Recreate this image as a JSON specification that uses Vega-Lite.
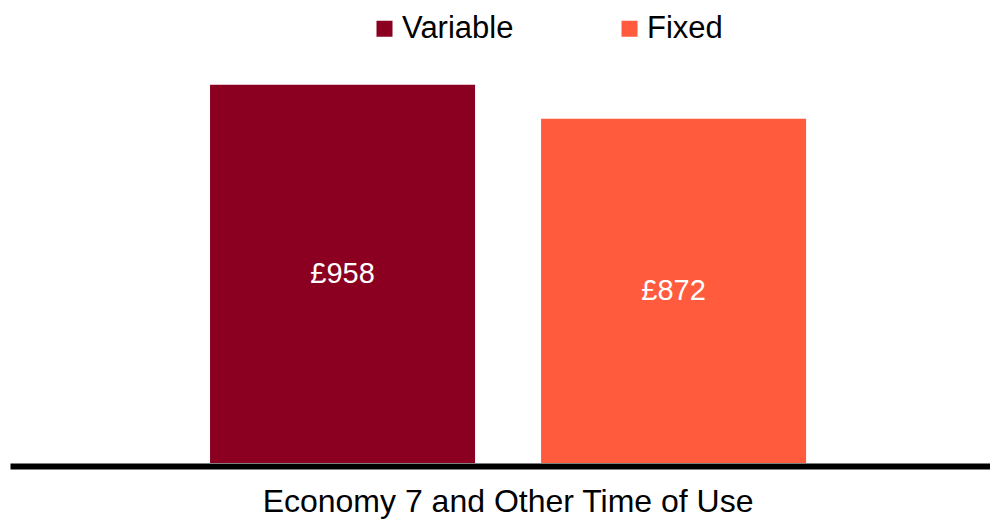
{
  "$schema": "https://vega.github.io/schema/vega-lite/v6.json",
  "width": 980,
  "height": 463,
  "autosize": {"type": "none"},
  "padding": {"left": 10, "top": 0, "right": 0, "bottom": 57},
  "config": {"view": {"stroke": null}, "font": "Liberation Sans"},
  "data": {
    "values": [
      {"category": "Economy 7 and Other Time of Use", "series": "Variable", "value": 958, "label": "£958"},
      {"category": "Economy 7 and Other Time of Use", "series": "Fixed", "value": 872, "label": "£872"}
    ]
  },
  "encoding": {
    "x": {
      "field": "category",
      "type": "nominal",
      "scale": {"paddingInner": 0, "paddingOuter": 0.3221, "align": 0.521},
      "axis": {
        "title": null,
        "ticks": false,
        "labelAngle": 0,
        "labelFontSize": 32,
        "labelColor": "#000000",
        "labelPadding": 20,
        "labelLimit": 1000,
        "domainColor": "#000000",
        "domainWidth": 6,
        "offset": 3
      }
    },
    "xOffset": {
      "field": "series",
      "type": "nominal",
      "sort": ["Variable", "Fixed"],
      "scale": {"paddingInner": 0.1994, "paddingOuter": 0}
    }
  },
  "layer": [
    {
      "mark": {"type": "bar"},
      "encoding": {
        "y": {
          "field": "value",
          "type": "quantitative",
          "scale": {"domain": [0, 1173], "nice": false},
          "axis": null
        },
        "color": {
          "field": "series",
          "type": "nominal",
          "sort": ["Variable", "Fixed"],
          "scale": {"domain": ["Variable", "Fixed"], "range": ["#8B0020", "#FF5B3C"]},
          "legend": {
            "title": null,
            "orient": "none",
            "legendX": 359,
            "legendY": 13,
            "direction": "horizontal",
            "symbolType": "square",
            "symbolSize": 256,
            "symbolStrokeWidth": 0,
            "symbolOpacity": 1,
            "labelFontSize": 31,
            "labelColor": "#000000",
            "labelOffset": 2,
            "columnPadding": 100
          }
        }
      }
    },
    {
      "mark": {"type": "text", "color": "#FFFFFF", "fontSize": 29, "baseline": "middle"},
      "encoding": {
        "y": {
          "field": "value",
          "type": "quantitative",
          "scale": {"domain": [0, 2346], "nice": false},
          "axis": null
        },
        "text": {"field": "label"}
      }
    }
  ],
  "resolve": {"scale": {"y": "independent"}}
}
